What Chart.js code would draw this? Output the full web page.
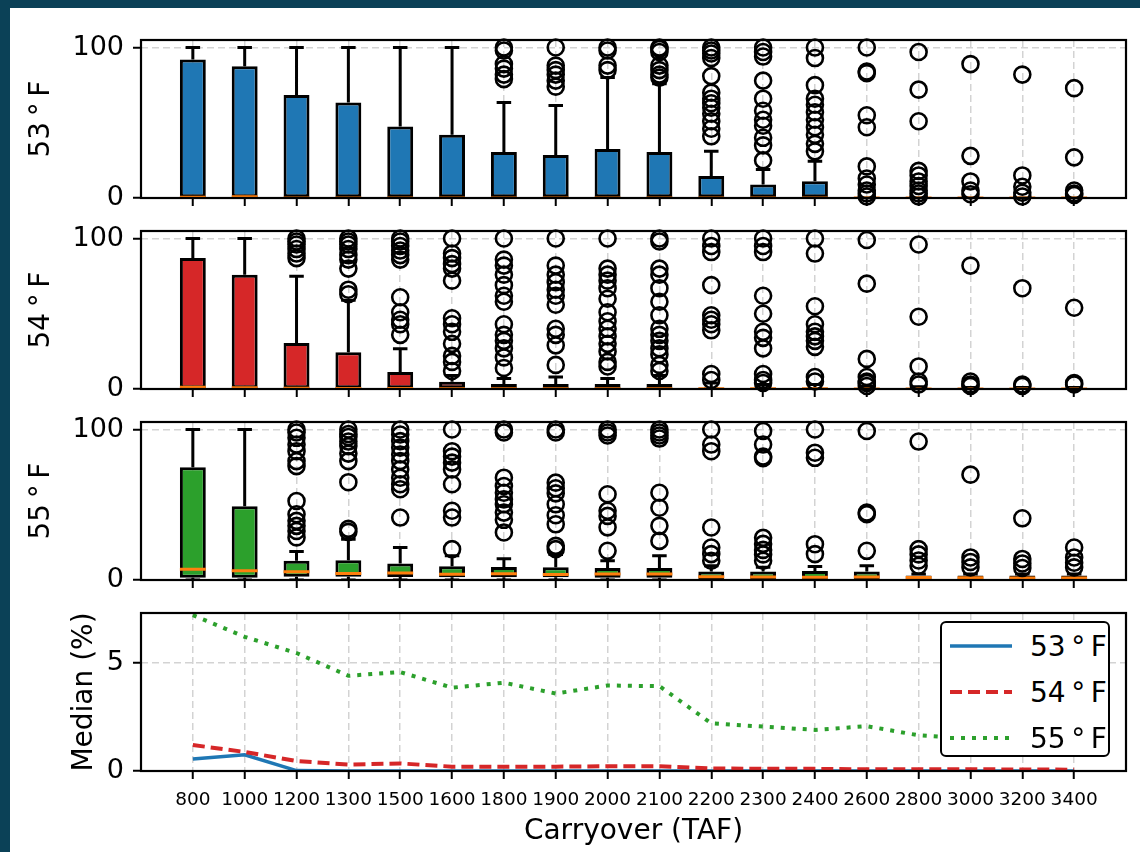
<!DOCTYPE html>
<html>
<head>
<meta charset="utf-8">
<script src="https://cdn.jsdelivr.net/npm/chart.js@4.4.1/dist/chart.umd.min.js"></script>
<style>
  html, body { margin: 0; padding: 0; width: 1140px; height: 852px; overflow: hidden; background: #0b4157; font-family: "DejaVu Sans", sans-serif; }
  #sheet { position: absolute; left: 10px; top: 8px; width: 1130px; height: 844px; background: #fff; }
  .panel { position: absolute; left: 0; width: 1140px; }
  #legend { position: absolute; left: 940px; top: 621px; width: 170px; height: 136px; box-sizing: border-box;
            border: 2px solid #000; border-radius: 6px; background: #fff; overflow: hidden; }
  #legend .row { height: 46px; display: flex; align-items: center; }
  #legend svg { margin-left: 8px; margin-right: 18px; }
  #legend span { font-size: 28px; color: #000; }
</style>
</head>
<body>
<div id="sheet"></div>
<div class="panel" style="top:20px"><canvas id="p53" width="1140" height="190"></canvas></div>
<div class="panel" style="top:211px"><canvas id="p54" width="1140" height="190"></canvas></div>
<div class="panel" style="top:402px"><canvas id="p55" width="1140" height="190"></canvas></div>
<div class="panel" style="top:593px"><canvas id="pmed" width="1140" height="259"></canvas></div>
<div id="legend"></div>

<script>
// --- Data ---
const carryover = [800, 1000, 1200, 1300, 1500, 1600, 1800, 1900, 2000, 2100, 2200, 2300, 2400, 2600, 2800, 3000, 3200, 3400];
const tempLabels = ['53\u2009°\u2009F', '54\u2009°\u2009F', '55\u2009°\u2009F'];

// medians (%), also plotted in the bottom panel
const med53 = [0.55, 0.75, 0.02, 0, 0, 0, 0, 0, 0, 0, 0, 0, 0, 0, 0, 0, 0, 0];
const med54 = [1.2, 0.88, 0.46, 0.3, 0.35, 0.2, 0.2, 0.2, 0.22, 0.22, 0.12, 0.1, 0.1, 0.08, 0.08, 0.08, 0.07, 0.06];
const med55 = [7.2, 6.2, 5.45, 4.4, 4.57, 3.85, 4.08, 3.58, 3.95, 3.92, 2.2, 2.05, 1.9, 2.07, 1.65, 1.5, 1.35, 1.25];

// 53 F boxes
const q1_53 = [0, 0, 0, 0, 0, 0, 0, 0, 0, 0, 0, 0, 0, 0, 0, 0, 0, 0];
const q3_53 = [92, 87.5, 68.5, 63.5, 47.5, 42, 30.5, 28.5, 32.5, 30.5, 14.7, 9, 11.2, 0, 0, 0, 0, 0];
const lo_53 = [0, 0, 0, 0, 0, 0, 0, 0, 0, 0, 0, 0, 0, 0, 0, 0, 0, 0];
const hi_53 = [100, 100, 100, 100, 100, 100, 63.5, 61.5, 80, 76, 31, 19, 24.5, 0, 0, 0, 0, 0];
const out_53 = [
  [], [], [], [], [], [],
  [100, 98, 89, 86, 82, 79],
  [100, 88, 85, 82, 78, 74],
  [100, 98, 88, 85],
  [100, 99, 97, 88, 85, 82, 80],
  [100, 98, 96, 93, 81, 70, 66, 63, 60, 56, 51, 46, 41],
  [100, 97, 94, 78, 66, 58, 52, 48, 40, 35, 25],
  [100, 93, 75, 66, 62, 57, 52, 47, 42, 36, 31],
  [100, 84, 83, 55, 47, 21, 13, 9, 5, 3, 1],
  [97, 72, 51, 18, 15, 11, 8, 5, 3, 1],
  [89, 28, 11, 5, 2.5],
  [82, 15, 7.5, 3.5, 1],
  [73, 27, 5, 3, 2]
];

// 54 F boxes
const q1_54 = [0, 0, 0, 0, 0, 0, 0, 0, 0, 0, 0, 0, 0, 0, 0, 0, 0, 0];
const q3_54 = [87, 76, 30.5, 24.5, 11.3, 4.8, 3.4, 3.4, 3.4, 3.4, 0.8, 0.6, 0.6, 0.5, 0.4, 0.3, 0.3, 0.3];
const lo_54 = [0, 0, 0, 0, 0, 0, 0, 0, 0, 0, 0, 0, 0, 0, 0, 0, 0, 0];
const hi_54 = [100, 100, 75, 59, 26.7, 9, 7, 8, 7, 9, 4, 3, 3, 2, 1.5, 1, 1, 1];
const out_54 = [
  [], [],
  [100, 98, 96, 93, 90, 87],
  [100, 98, 96, 93, 89, 86, 80, 66, 63],
  [100, 98, 95, 92, 89, 86, 61, 51, 46, 43, 36],
  [100, 90, 87, 83, 80, 72, 47, 43, 38, 30, 22, 18, 12],
  [100, 86, 82, 76, 69, 62, 58, 43, 36, 32, 27, 21, 14],
  [100, 82, 76, 71, 66, 62, 56, 40, 36, 29, 16],
  [100, 80, 76, 72, 67, 60, 51, 45, 40, 35, 30, 25, 18, 15],
  [100, 98, 80, 76, 67, 58, 49, 40, 36, 32, 27, 23, 16, 12],
  [100, 95, 91, 69, 49, 46, 43, 39, 10, 6],
  [100, 95, 91, 62, 50, 38, 34, 27, 10, 6, 4],
  [100, 90, 55, 43, 38, 35, 32, 28, 8, 5],
  [99, 70, 20, 8, 5, 4, 2],
  [96, 48, 15, 5, 3],
  [82, 5, 3, 2],
  [67, 3, 2],
  [54, 4, 3]
];

// 55 F boxes
const q1_55 = [1.5, 1.5, 2.2, 2.2, 2, 1.8, 1.8, 1.8, 1.5, 1.5, 0.4, 0.4, 0.4, 0.4, 0.4, 0.4, 0.4, 0.4];
const q3_55 = [75, 49, 12.8, 13.2, 11, 9.1, 8.6, 8.4, 7.9, 7.9, 5.7, 5.7, 6, 5.7, 3, 3, 3, 3];
const lo_55 = [0, 0, 0, 0, 0, 0, 0, 0, 0, 0, 0, 0, 0, 0, 0, 0, 0, 0];
const hi_55 = [100, 100, 19, 27, 21.6, 16.1, 14.2, 17, 12.8, 16.1, 9.5, 8.4, 9, 9.5, 4, 4, 4, 4];
const out_55 = [
  [], [],
  [100, 98, 94.5, 90, 85.6, 79, 75.7, 52.5, 43.7, 39.3, 36, 32.6, 28.3],
  [100, 97, 95, 92, 89, 84, 79, 65, 34, 32],
  [100, 96.7, 92.3, 88, 83.4, 79, 73.5, 68, 63.6, 60.3, 41.5],
  [100, 85.6, 82, 78, 73.5, 63.6, 46, 41.5, 20.5],
  [100, 98, 68, 62.5, 58, 53.6, 50.3, 44.8, 40, 31.6],
  [100, 98, 64.7, 61, 57.6, 50.3, 43, 37, 22.7, 20.5],
  [100, 98, 96, 57, 46, 42.6, 35, 19.4],
  [100, 98, 96, 94, 58, 48, 36, 26],
  [100, 90, 85.6, 34.9, 21.6, 17.2, 12.8],
  [99, 90, 82, 81, 28, 24, 20, 17, 12.8],
  [100, 84.6, 81.2, 23.8, 17.2],
  [99, 44.8, 43.7, 19.4],
  [92, 20.5, 17, 13, 9.5],
  [70, 15, 12, 8.4],
  [41, 14, 11, 8],
  [21.6, 15, 11.5, 8.4]
];

const seriesColours = ['#1f77b4', '#d62728', '#2ca02c'];

// --- Styling helpers ---
const CAP = 0.14;       // half cap width, x units
const HALF_BOX = 0.25;  // half box width, x units
const GRID = { offset: false, color: '#d3d3d3', lineWidth: 1.5, tickColor: '#000', tickWidth: 2, tickLength: 8 };
const BORDER = { display: false, dash: [7, 4] };

Chart.defaults.font.family = '"DejaVu Sans", sans-serif';
Chart.defaults.color = '#000';

// frame round each axes box, like matplotlib spines
Chart.register({
  id: 'frame',
  afterDatasetsDraw(chart) {
    const { ctx, chartArea: a } = chart;
    ctx.save();
    ctx.strokeStyle = '#000';
    ctx.lineWidth = 2.2;
    ctx.strokeRect(a.left, a.top, a.right - a.left, a.bottom - a.top);
    ctx.restore();
  }
});

function xAxis(showLabels, height) {
  return {
    type: 'linear', min: 0, max: 19, offset: false,
    afterBuildTicks: s => { s.ticks = carryover.map((c, i) => ({ value: i + 1 })); },
    afterFit: s => { s.height = height; s.paddingLeft = 0; s.paddingRight = 0; },
    ticks: { display: showLabels, autoSkip: false, maxRotation: 0, minRotation: 0, padding: 10,
             font: { size: 18.5 }, callback: v => carryover[v - 1] },
    grid: GRID,
    border: BORDER,
    title: { display: showLabels, text: 'Carryover (TAF)', font: { size: 28 }, padding: { top: 0, bottom: 3 } }
  };
}

function yAxis(tickValues, max, title, titlePad) {
  return {
    type: 'linear', min: 0, max: max,
    afterBuildTicks: s => { s.ticks = tickValues.map(v => ({ value: v })); },
    afterFit: s => { s.width = 141; s.paddingTop = 0; s.paddingBottom = 0; },
    ticks: { font: { size: 27 }, padding: 9 },
    grid: GRID,
    border: BORDER,
    title: { display: true, text: title, font: { size: 28 }, padding: { top: titlePad, bottom: 0 } }
  };
}

function baseOptions(scales) {
  return {
    responsive: false,
    animation: false,
    devicePixelRatio: 1,
    events: [],
    layout: { padding: { top: 20, right: 14, left: 0, bottom: 0 } },
    plugins: { legend: { display: false }, tooltip: { enabled: false } },
    scales: scales
  };
}

// --- Box panels ---
function boxPanel(id, colour, label, q1, q3, med, lo, hi, out) {
  const boxes = q1.map((v, i) => ({ x: i + 1, y: [v, q3[i]] }));

  const whiskers = [];
  q1.forEach((v, i) => {
    const x = i + 1;
    whiskers.push({ x, y: q3[i] }, { x, y: hi[i] }, { x, y: null });
    whiskers.push({ x: x - CAP, y: hi[i] }, { x: x + CAP, y: hi[i] }, { x, y: null });
    whiskers.push({ x, y: v }, { x, y: lo[i] }, { x, y: null });
    whiskers.push({ x: x - CAP, y: lo[i] }, { x: x + CAP, y: lo[i] }, { x, y: null });
  });

  const medians = [];
  med.forEach((m, i) => {
    medians.push({ x: i + 1 - HALF_BOX, y: m }, { x: i + 1 + HALF_BOX, y: m }, { x: i + 1, y: null });
  });

  const fliers = [];
  out.forEach((vals, i) => vals.forEach(v => fliers.push({ x: i + 1, y: v })));

  return new Chart(document.getElementById(id), {
    type: 'bar',
    data: {
      datasets: [
        { type: 'bar', data: boxes, backgroundColor: colour, borderColor: '#000', borderWidth: 3,
          borderSkipped: false, categoryPercentage: 1, barPercentage: 0.5, order: 4 },
        { type: 'line', data: whiskers, borderColor: '#000', borderWidth: 3, pointRadius: 0,
          spanGaps: false, order: 3 },
        { type: 'line', data: medians, borderColor: '#ff7f0e', borderWidth: 3, pointRadius: 0,
          spanGaps: false, order: 2 },
        { type: 'scatter', data: fliers, pointRadius: 8, pointBorderWidth: 2.6, pointBorderColor: '#000',
          pointBackgroundColor: 'rgba(0,0,0,0)', clip: false, order: 1 }
      ]
    },
    options: baseOptions({
      x: xAxis(false, 12),
      y: yAxis([0, 100], 105, label, 25)
    })
  });
}

boxPanel('p53', seriesColours[0], tempLabels[0], q1_53, q3_53, med53, lo_53, hi_53, out_53);
boxPanel('p54', seriesColours[1], tempLabels[1], q1_54, q3_54, med54, lo_54, hi_54, out_54);
boxPanel('p55', seriesColours[2], tempLabels[2], q1_55, q3_55, med55, lo_55, hi_55, out_55);

// --- Median lines ---
const toPoints = arr => arr.map((v, i) => ({ x: i + 1, y: v }));
const medianChart = new Chart(document.getElementById('pmed'), {
  type: 'line',
  data: {
    datasets: [
      { label: tempLabels[0], data: toPoints(med53), borderColor: seriesColours[0], borderWidth: 3.5,
        pointRadius: 0, order: 3 },
      { label: tempLabels[1], data: toPoints(med54), borderColor: seriesColours[1], borderWidth: 4,
        borderDash: [12, 6], pointRadius: 0, order: 2 },
      { label: tempLabels[2], data: toPoints(med55), borderColor: seriesColours[2], borderWidth: 4,
        borderDash: [4, 7], pointRadius: 0, order: 1 }
    ]
  },
  options: baseOptions({
    x: xAxis(true, 81),
    y: yAxis([0, 5], 7.3, 'Median (%)', 68)
  })
});

// legend box built from the median chart's datasets
const legendBox = document.getElementById('legend');
medianChart.data.datasets.forEach(ds => {
  const row = document.createElement('div');
  row.className = 'row';
  const dash = (ds.borderDash || []).join(' ');
  row.innerHTML = '<svg width="62" height="8"><line x1="0" y1="4" x2="62" y2="4" stroke="' + ds.borderColor +
    '" stroke-width="' + ds.borderWidth + '" stroke-dasharray="' + dash + '"/></svg><span>' + ds.label + '</span>';
  legendBox.appendChild(row);
});
</script>
</body>
</html>
